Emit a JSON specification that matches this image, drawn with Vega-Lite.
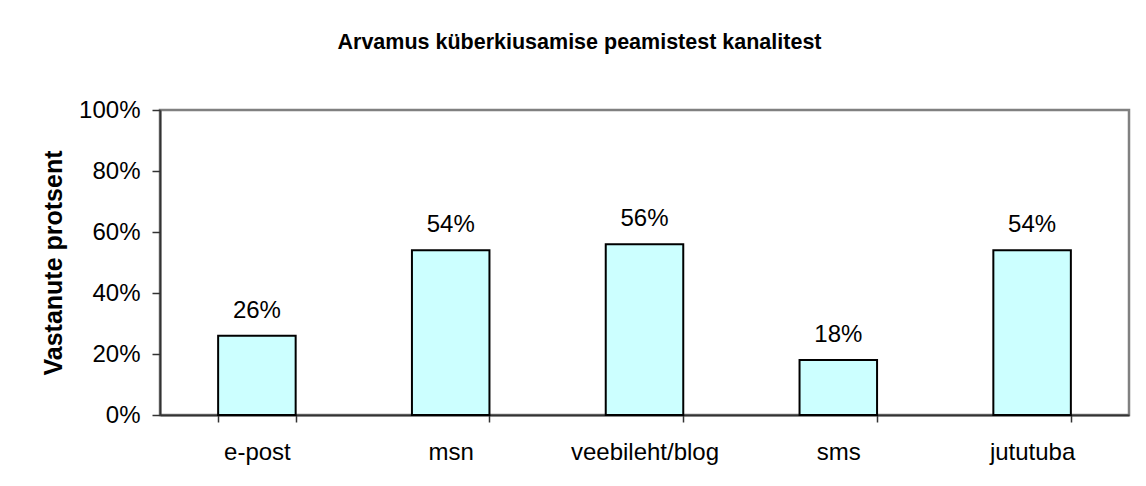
{
  "$schema": "https://vega.github.io/schema/vega-lite/v6.json",
  "autosize": "none",
  "width": 969,
  "height": 305,
  "padding": {"left": 160, "top": 110, "right": 17, "bottom": 71},
  "background": "white",
  "title": {
    "text": "Arvamus küberkiusamise peamistest kanalitest",
    "font": "Liberation Sans",
    "fontSize": 21.5,
    "fontWeight": "bold",
    "color": "black",
    "anchor": "middle",
    "frame": "group",
    "dx": -65,
    "offset": 45
  },
  "data": {
    "values": [
      {"kanal": "e-post", "osakaal": 0.26},
      {"kanal": "msn", "osakaal": 0.54},
      {"kanal": "veebileht/blog", "osakaal": 0.56},
      {"kanal": "sms", "osakaal": 0.18},
      {"kanal": "jututuba", "osakaal": 0.54}
    ]
  },
  "encoding": {
    "x": {
      "field": "kanal",
      "type": "nominal",
      "sort": null,
      "scale": {"paddingInner": 0.6, "paddingOuter": 0.3},
      "axis": {
        "title": null,
        "labelAngle": 0,
        "labelFont": "Liberation Sans",
        "labelFontSize": 24,
        "labelColor": "black",
        "labelBaseline": "alphabetic",
        "labelPadding": 37,
        "tickBand": "extent",
        "tickSize": 7,
        "tickColor": "#333333",
        "tickWidth": 1.5,
        "domainColor": "#333333",
        "domainWidth": 2
      }
    },
    "y": {
      "field": "osakaal",
      "type": "quantitative",
      "scale": {"domain": [0, 1], "nice": false},
      "axis": {
        "title": "Vastanute protsent",
        "titleFont": "Liberation Sans",
        "titleFontSize": 25,
        "titleFontWeight": "bold",
        "titleColor": "black",
        "titlePadding": 12,
        "values": [0, 0.2, 0.4, 0.6, 0.8, 1],
        "format": ".0%",
        "labelFont": "Liberation Sans",
        "labelFontSize": 24,
        "labelColor": "black",
        "labelPadding": 12,
        "tickSize": 8,
        "tickColor": "#333333",
        "tickWidth": 1.5,
        "domainColor": "#333333",
        "domainWidth": 2,
        "grid": false
      }
    }
  },
  "layer": [
    {
      "mark": {"type": "bar", "fill": "#CCFFFF", "stroke": "black", "strokeWidth": 2}
    },
    {
      "mark": {
        "type": "text",
        "font": "Liberation Sans",
        "fontSize": 24,
        "color": "black",
        "baseline": "alphabetic",
        "dy": -18
      },
      "encoding": {
        "text": {"field": "osakaal", "type": "quantitative", "format": ".0%"}
      }
    }
  ],
  "config": {
    "view": {"stroke": "#808080", "strokeWidth": 2.5}
  }
}
